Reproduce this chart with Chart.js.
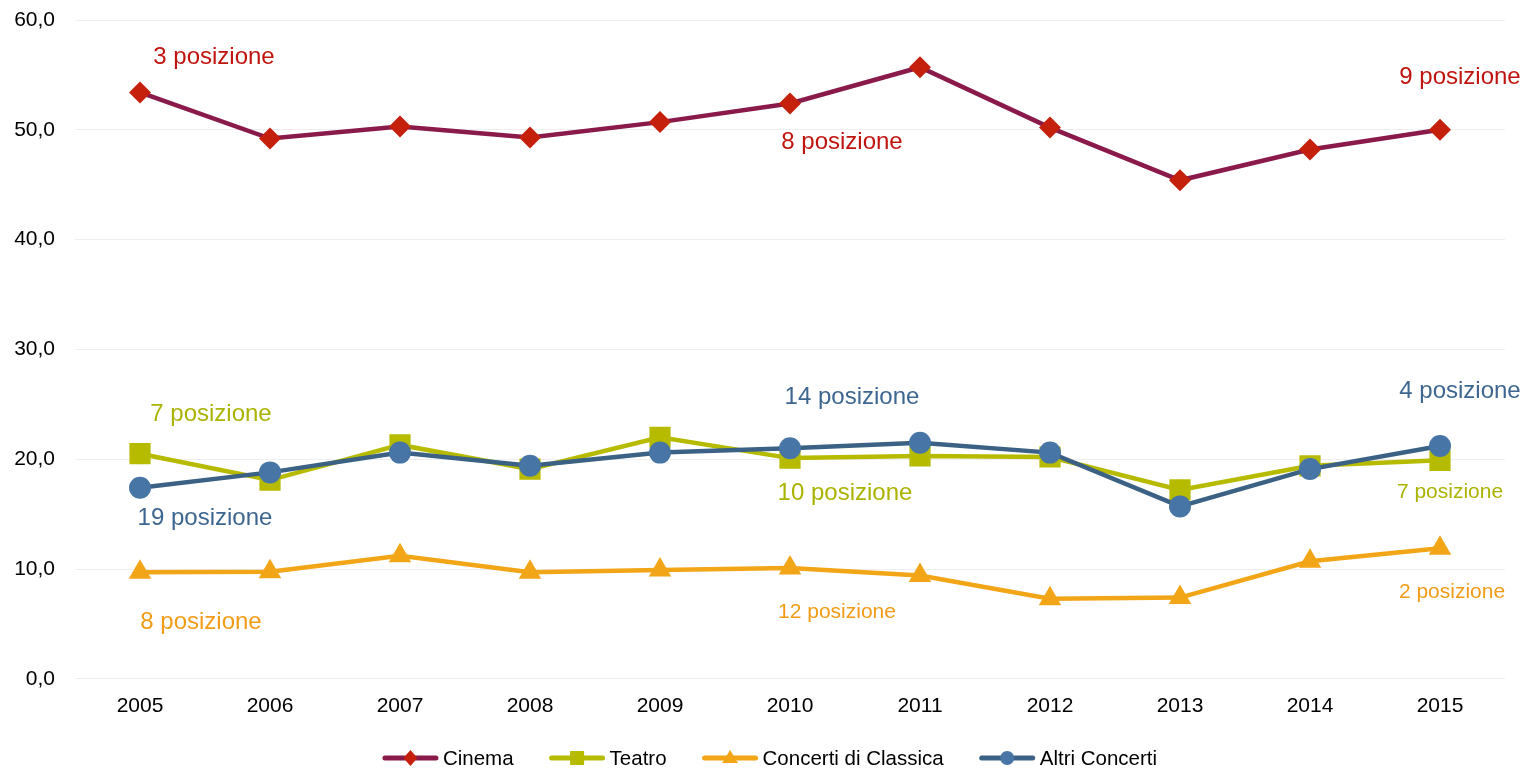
<!DOCTYPE html>
<html>
<head>
<meta charset="utf-8">
<script src="https://cdn.jsdelivr.net/npm/chart.js@4"></script>
<style>
  html, body { margin: 0; padding: 0; background: #fff; }
  #wrap { width: 1520px; height: 768px; }
</style>
</head>
<body>
<div id="wrap"><canvas id="chart"></canvas></div>
<script>
const years = ['2005', '2006', '2007', '2008', '2009', '2010', '2011', '2012', '2013', '2014', '2015'];
const cinema = [53.4, 49.2, 50.3, 49.3, 50.7, 52.4, 55.7, 50.2, 45.4, 48.2, 50.0];
const teatro = [20.5, 18.1, 21.3, 19.1, 22.0, 20.1, 20.3, 20.2, 17.2, 19.4, 19.9];
const classica = [9.7, 9.75, 11.2, 9.7, 9.9, 10.1, 9.4, 7.3, 7.4, 10.7, 11.9];
const altri = [17.4, 18.8, 20.6, 19.4, 20.6, 21.0, 21.5, 20.6, 15.7, 19.1, 21.2];
const yTicks = [0, 10, 20, 30, 40, 50, 60];

// ranking labels next to some points: [dataset, year index, text]
const rankLabels = [
  [0, 0, '3 posizione'], [0, 5, '8 posizione'], [0, 10, '9 posizione'],
  [1, 0, '7 posizione'], [1, 5, '10 posizione'], [1, 10, '7 posizione'],
  [2, 0, '8 posizione'], [2, 5, '12 posizione'], [2, 10, '2 posizione'],
  [3, 0, '19 posizione'], [3, 5, '14 posizione'], [3, 10, '4 posizione']
];

const FONT = '"Liberation Sans", Arial, sans-serif';

// offset of the label centre from its point, and font size
const labelPlace = {
  '0-0': [74, -35, 24], '0-5': [52, 39, 24], '0-10': [20, -52, 24],
  '1-0': [71, -39, 24], '1-5': [55, 35, 24], '1-10': [10, 32, 21],
  '2-0': [61, 50, 24], '2-5': [47, 44, 21], '2-10': [12, 44, 21],
  '3-0': [65, 31, 24], '3-5': [62, -51, 24], '3-10': [20, -55, 24]
};
const labelColors = ['#C0140E', '#AAB300', '#F29B16', '#3D6690'];

const series = [
  { label: 'Cinema', data: cinema, line: '#8A1A4A', point: '#C4200C', style: 'rectRot', r: 11, order: 0 },
  { label: 'Teatro', data: teatro, line: '#B7BB00', point: '#B7BB00', style: 'rect', r: 15, order: 2 },
  { label: 'Concerti di Classica', data: classica, line: '#F2A516', point: '#F2A516', style: 'triangle', r: 13, order: 3 },
  { label: 'Altri Concerti', data: altri, line: '#3B6284', point: '#4775A5', style: 'circle', r: 11, order: 1 }
];

function legendMarker(ctx, style, x, y) {
  ctx.beginPath();
  if (style === 'circle') ctx.arc(x, y, 7, 0, Math.PI * 2);
  else if (style === 'rectRot') { ctx.moveTo(x, y - 8); ctx.lineTo(x + 7, y); ctx.lineTo(x, y + 8); ctx.lineTo(x - 7, y); }
  else if (style === 'rect') ctx.rect(x - 7, y - 7, 14, 14);
  else { ctx.moveTo(x, y - 8); ctx.lineTo(x + 8, y + 5); ctx.lineTo(x - 8, y + 5); }
  ctx.closePath();
  ctx.fill();
}

const rankPlugin = {
  id: 'rankPlugin',
  afterDatasetsDraw(chart) {
    const ctx = chart.ctx;
    ctx.save();
    ctx.textAlign = 'center';
    ctx.textBaseline = 'middle';
    rankLabels.forEach(([ds, i, text]) => {
      const p = chart.getDatasetMeta(ds).data[i];
      const [dx, dy, size] = labelPlace[ds + '-' + i];
      ctx.font = size + 'px ' + FONT;
      ctx.fillStyle = labelColors[ds];
      ctx.fillText(text, p.x + dx, p.y + dy);
    });
    ctx.restore();
  }
};

// legend drawn by hand: line with marker, then text
const lineLegend = {
  id: 'lineLegend',
  afterDraw(chart) {
    const ctx = chart.ctx;
    const lineLen = 55, gap = 5, spacing = 36, y = 758;
    ctx.save();
    ctx.font = '20.5px ' + FONT;
    const widths = series.map(s => lineLen + gap + ctx.measureText(s.label).width);
    const total = widths.reduce((a, b) => a + b, 0) + spacing * (series.length - 1);
    let x = 770 - total / 2;
    series.forEach((s, i) => {
      ctx.strokeStyle = s.line;
      ctx.lineWidth = 5;
      ctx.lineCap = 'round';
      ctx.beginPath(); ctx.moveTo(x + 2, y); ctx.lineTo(x + lineLen - 2, y); ctx.stroke();
      ctx.fillStyle = s.point;
      legendMarker(ctx, s.style, x + lineLen / 2, y);
      ctx.fillStyle = '#000';
      ctx.textBaseline = 'middle';
      ctx.textAlign = 'left';
      ctx.fillText(s.label, x + lineLen + gap, y + 1);
      x += widths[i] + spacing;
    });
    ctx.restore();
  }
};

new Chart(document.getElementById('chart'), {
  type: 'line',
  data: {
    labels: years,
    datasets: series.map(s => ({
      label: s.label,
      data: s.data,
      borderColor: s.line,
      backgroundColor: s.point,
      pointBackgroundColor: s.point,
      pointBorderColor: s.point,
      pointBorderWidth: 0,
      pointStyle: s.style,
      pointRadius: s.r,
      borderWidth: 4.5,
      tension: 0,
      order: s.order
    }))
  },
  options: {
    responsive: true,
    maintainAspectRatio: false,
    animation: false,
    layout: { padding: { left: 0, right: 15, top: 20, bottom: 42 } },
    plugins: {
      tooltip: { enabled: false },
      legend: { display: false }
    },
    scales: {
      x: {
        offset: true,
        grid: { display: false },
        border: { display: false },
        ticks: { color: '#000', font: { family: FONT, size: 21 }, padding: 7 }
      },
      y: {
        min: 0,
        max: 60,
        afterFit(scale) {
          scale.width = 75;
          scale.paddingTop = 0;
          scale.paddingBottom = 0;
        },
        afterBuildTicks(scale) { scale.ticks = yTicks.map(v => ({ value: v })); },
        grid: { color: '#EEEEEE', lineWidth: 1, drawTicks: false },
        border: { display: false },
        ticks: {
          color: '#000',
          padding: 20,
          font: { family: FONT, size: 21 },
          callback: v => v.toFixed(1).replace('.', ',')
        }
      }
    }
  },
  plugins: [rankPlugin, lineLegend]
});
</script>
</body>
</html>
